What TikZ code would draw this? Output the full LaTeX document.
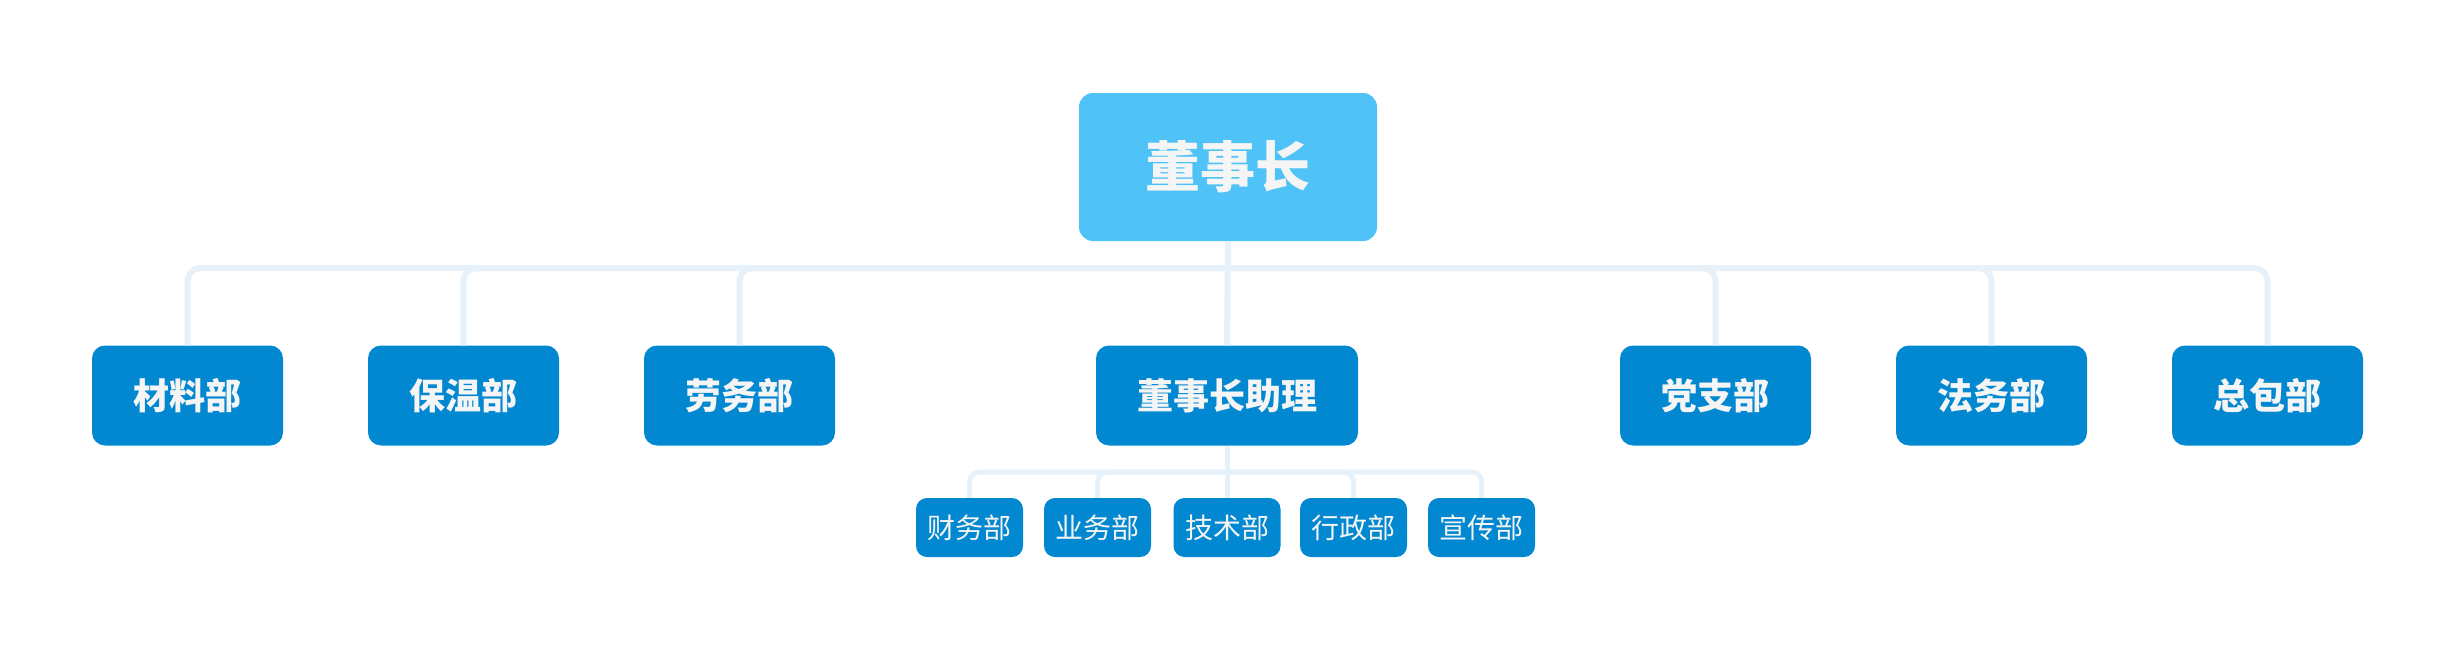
\documentclass[tikz,border=0pt]{standalone}
\usepackage{fontspec}
\newfontfamily\cjk{Noto Sans CJK SC}
\definecolor{rootfill}{HTML}{4FC3F7}
\definecolor{deptfill}{HTML}{0288D1}
\definecolor{linecol}{HTML}{E7F1FA}
\definecolor{txtcol}{HTML}{F5F5F5}
\tikzset{
  rootbox/.style={draw=none, fill=rootfill, rounded corners=14pt, minimum width=298pt, minimum height=148pt, inner sep=0pt, text=txtcol, font=\cjk\bfseries\fontsize{55pt}{60pt}\selectfont},
  deptbox/.style={draw=none, fill=deptfill, rounded corners=13pt, minimum width=191pt, minimum height=100pt, inner sep=0pt, text=txtcol, font=\cjk\bfseries\fontsize{36pt}{40pt}\selectfont},
  subbox/.style={draw=none, fill=deptfill, rounded corners=11pt, minimum width=107pt, minimum height=59pt, inner sep=0pt, text=txtcol, font=\cjk\fontsize{28pt}{32pt}\selectfont},
  mainconn/.style={draw=linecol, line width=6pt, rounded corners=13pt},
  subconn/.style={draw=linecol, line width=5pt, rounded corners=10pt},
}
\begin{document}
\begin{tikzpicture}[x=1pt,y=-1pt]
\useasboundingbox (0,0) rectangle (2451,645);
% nodes
\node[rootbox] (root) at (1228,167) {董事长};
\node[deptbox] (c1) at (187.5,395.5) {材料部};
\node[deptbox] (c2) at (463.5,395.5) {保温部};
\node[deptbox] (c3) at (739.5,395.5) {劳务部};
\node[deptbox, minimum width=262pt] (c4) at (1227,395.5) {董事长助理};
\node[deptbox] (c5) at (1715.5,395.5) {党支部};
\node[deptbox] (c6) at (1991.5,395.5) {法务部};
\node[deptbox] (c7) at (2267.5,395.5) {总包部};
\node[subbox] (s1) at (969.5,527.5) {财务部};
\node[subbox] (s2) at (1097.5,527.5) {业务部};
\node[subbox] (s3) at (1227,527.5) {技术部};
\node[subbox] (s4) at (1353.5,527.5) {行政部};
\node[subbox] (s5) at (1481.5,527.5) {宣传部};
% junctions
\coordinate (h1) at (1227,268);
\coordinate (h2) at (1227,472);
% main connectors
\draw[mainconn] (root.south) -- (c4.north);
\draw[mainconn] (h1) -| (c1.north);
\draw[mainconn] (h1) -| (c2.north);
\draw[mainconn] (h1) -| (c3.north);
\draw[mainconn] (h1) -| (c5.north);
\draw[mainconn] (h1) -| (c6.north);
\draw[mainconn] (h1) -| (c7.north);
% sub connectors
\draw[subconn] (c4.south) -- (s3.north);
\draw[subconn] (h2) -| (s1.north);
\draw[subconn] (h2) -| (s2.north);
\draw[subconn] (h2) -| (s4.north);
\draw[subconn] (h2) -| (s5.north);
\end{tikzpicture}
\end{document}
